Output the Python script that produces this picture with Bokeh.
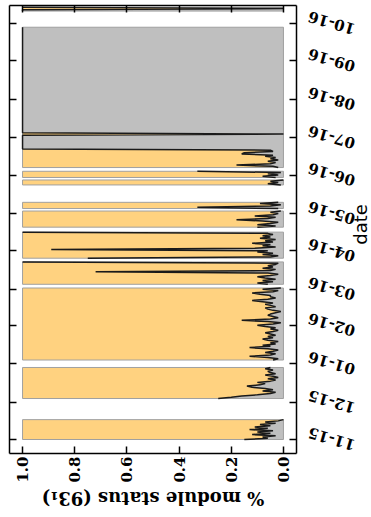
import math
import pandas as pd
from bokeh.plotting import figure
from bokeh.models import (Range1d, FixedTicker, LinearAxis, DatetimeAxis, Label,
                          PrintfTickFormatter, ColumnDataSource)
from bokeh.embed import file_html
from bokeh.resources import INLINE

# ---------------- data (share of modules in the grey status, per day) ----------------
band_starts = ["2015-11-01", "2015-12-04", "2016-01-04", "2016-03-05", "2016-03-26",
               "2016-04-20", "2016-05-05", "2016-05-24", "2016-05-30", "2016-06-07",
               "2016-10-11"]

band_nov = [0.15, 0.06, 0.08, 0.03, 0.12, 0.05, 0.10, 0.04, 0.13, 0.06, 0.11, 0.05,
            0.09, 0.03, 0.07, 0.02, 0.00]
band_dec = [0.25, 0.20, 0.16, 0.10, 0.05, 0.03, 0.08, 0.04, 0.07, 0.12, 0.14, 0.09,
            0.07, 0.10, 0.05, 0.03, 0.06, 0.02, 0.04, 0.07, 0.03, 0.05, 0.06, 0.04,
            0.07, 0.05]
band_jan = [0.04, 0.02, 0.06, 0.13, 0.05, 0.03, 0.07, 0.04, 0.02, 0.06, 0.13, 0.05,
            0.08, 0.03, 0.05, 0.02, 0.06, 0.08, 0.04, 0.06, 0.03, 0.05, 0.07, 0.04,
            0.02, 0.05, 0.03, 0.07, 0.10, 0.04, 0.01, 0.06, 0.16, 0.05, 0.02, 0.04,
            0.06, 0.05, 0.03, 0.01, 0.04, 0.06, 0.07, 0.03, 0.05, 0.07, 0.04, 0.08,
            0.12, 0.06, 0.03, 0.05, 0.05, 0.09, 0.12, 0.04, 0.02, 0.08, 0.01]
band_mar1 = [0.06, 0.10, 0.04, 0.08, 0.03, 0.07, 0.10, 0.05, 0.02, 0.06, 0.72, 0.05,
             0.03, 0.08, 0.04, 0.06, 0.03, 0.02, 1.00]
band_mar2 = [0.75, 0.05, 0.02, 0.08, 0.04, 0.10, 0.06, 0.89, 0.11, 0.03, 0.08, 0.05,
             0.12, 0.04, 0.07, 0.03, 0.09, 0.05, 0.08, 0.04, 0.06, 1.00]
band_apr = [0.10, 0.03, 0.10, 0.05, 0.02, 0.08, 0.18, 0.06, 0.03, 0.11, 0.04, 0.02,
            0.05, 0.01]
band_may1 = [0.02, 0.33, 0.05, 0.01, 0.09, 0.02]
band_may2 = [0.01, 0.06, 0.02, 0.05, 0.00]
band_may3 = [0.03, 0.08, 0.02, 0.06, 0.01, 0.33]
band_jun = [0.02, 0.04, 0.18, 0.05, 0.03, 0.06, 0.02, 0.05, 0.03, 0.07, 0.04, 0.16,
            0.15, 0.04, 0.05,
            1.0, 1.0, 1.0, 1.0, 1.0, 1.0, 1.0, 1.0, 1.0, 1.0, 1.0, 1.0,
            0.0,
            1.0, 1.0, 1.0, 1.0, 1.0, 1.0, 1.0, 1.0, 1.0, 1.0, 1.0, 1.0, 1.0, 1.0,
            1.0, 1.0, 1.0, 1.0, 1.0, 1.0, 1.0, 1.0, 1.0, 1.0, 1.0, 1.0, 1.0, 1.0,
            1.0, 1.0, 1.0, 1.0, 1.0, 1.0, 1.0, 1.0, 1.0, 1.0, 1.0, 1.0, 1.0, 1.0,
            1.0, 1.0, 1.0, 1.0, 1.0, 1.0, 1.0, 1.0, 1.0, 1.0, 1.0, 1.0, 1.0, 1.0,
            1.0, 1.0, 1.0, 1.0, 1.0, 1.0, 1.0, 1.0, 1.0, 1.0, 1.0, 1.0, 1.0, 1.0,
            1.0, 1.0, 1.0, 1.0, 1.0, 1.0, 1.0, 1.0, 1.0, 1.0, 1.0, 1.0, 1.0, 1.0,
            1.0, 1.0]
band_oct = [1.0, 1.0, 0.0, 1.0]

band_values = [band_nov, band_dec, band_jan, band_mar1, band_mar2, band_apr,
               band_may1, band_may2, band_may3, band_jun, band_oct]

month_ticks = ["2015-11-01", "2015-12-01", "2016-01-01", "2016-02-01", "2016-03-01",
               "2016-04-01", "2016-05-01", "2016-06-01", "2016-07-01", "2016-08-01",
               "2016-09-01", "2016-10-01"]
month_labels = ["11-15", "12-15", "01-16", "02-16", "03-16", "04-16", "05-16",
                "06-16", "07-16", "08-16", "09-16", "10-16"]
share_ticks = [0.0, 0.2, 0.4, 0.6, 0.8, 1.0]

x_title = "% module status (93\u2081)"
y_title = "date"

# ---------------- layout geometry ----------------
DAY = 86400000.0


def ms(s):
    return pd.Timestamp(s).value / 1e6


W, H = 371, 512
BOX_L, BOX_R, BOX_T, BOX_B = 9, 296, 5, 453        # visible axes box, canvas px
SX0, SX1 = 1.05, -0.05                              # share at box left / right
SY0 = ms("2015-11-01") - 11.27 * DAY                # date at box bottom
SY1 = ms("2015-11-01") + 349.5 * DAY                # date at box top

kx = (SX1 - SX0) / (BOX_R - BOX_L)
ky = (SY1 - SY0) / (BOX_B - BOX_T)


def x_at(px):
    return SX0 + (px - BOX_L) * kx


def y_at(py):
    return SY0 + (BOX_B - py) * ky


p = figure(width=W, height=H, min_border=0, min_border_left=0, min_border_right=0,
           min_border_top=0, min_border_bottom=0,
           x_range=Range1d(x_at(0), x_at(W)), y_range=Range1d(y_at(H), y_at(0)),
           x_axis_location=None, y_axis_location=None,
           output_backend="svg", toolbar_location=None)
p.xgrid.visible = False
p.ygrid.visible = False
p.outline_line_color = None
p.background_fill_color = "white"
p.border_fill_color = "white"

tick_ms = [ms(t) for t in month_ticks]
FONT = "DejaVu Serif"

# bottom axis with share labels
xa = LinearAxis(fixed_location=SY0, bounds=(SX1, SX0),
                ticker=FixedTicker(ticks=share_ticks),
                formatter=PrintfTickFormatter(format="%.1f"),
                major_label_orientation=math.pi / 2,
                major_label_text_font=FONT, major_label_text_font_size="15px",
                major_label_text_font_style="bold", major_label_text_color="black",
                major_label_standoff=3, major_tick_in=7, major_tick_out=0,
                minor_tick_in=0, minor_tick_out=0, axis_line_width=1.5,
                major_tick_line_width=1.5)
p.add_layout(xa, "below")

# top axis (tick marks only)
ta = LinearAxis(fixed_location=SY1, bounds=(SX1, SX0),
                ticker=FixedTicker(ticks=[], minor_ticks=share_ticks),
                major_tick_in=0, major_tick_out=0, minor_tick_in=7, minor_tick_out=0,
                minor_tick_line_width=1.5, minor_tick_line_color="black",
                axis_line_width=1.5)
p.add_layout(ta, "above")

# right axis (tick marks; labels drawn below as rotated texts)
ra = DatetimeAxis(fixed_location=SX1, bounds=(SY0, SY1),
                  ticker=FixedTicker(ticks=[], minor_ticks=tick_ms),
                  major_tick_in=0, major_tick_out=0, minor_tick_in=7, minor_tick_out=0,
                  minor_tick_line_width=1.5, minor_tick_line_color="black",
                  axis_line_width=1.5)
p.add_layout(ra, "right")

# left axis (tick marks only)
la = DatetimeAxis(fixed_location=SX0, bounds=(SY0, SY1),
                  ticker=FixedTicker(ticks=[], minor_ticks=tick_ms),
                  major_tick_in=0, major_tick_out=0, minor_tick_in=7, minor_tick_out=0,
                  minor_tick_line_width=1.5, minor_tick_line_color="black",
                  axis_line_width=1.5)
p.add_layout(la, "left")

# ---------------- bands ----------------
for start, vals in zip(band_starts, band_values):
    dates = pd.date_range(start, periods=len(vals), freq="D")
    ys = [d.value / 1e6 for d in dates]
    src = ColumnDataSource(dict(y=ys, g=vals))
    p.harea(y="y", x1=0.0, x2="g", source=src, fill_color="#BFBFBF")
    p.harea(y="y", x1="g", x2=1.0, source=src, fill_color="#FFD280")
    p.quad(left=0.0, right=1.0, bottom=ys[0], top=ys[-1], fill_color=None,
           line_color="#A0A0A0", line_width=1)
    p.line(x="g", y="y", source=src, line_color="#1a1a1a", line_width=1.5)

# ---------------- texts ----------------
for t, lab in zip(tick_ms, month_labels):
    p.add_layout(Label(x=x_at(308), y=t + 7 * ky, text=lab, angle=math.radians(164),
                       text_align="right", text_baseline="middle",
                       text_font=FONT, text_font_size="15px", text_font_style="bold",
                       text_color="black"))

p.add_layout(Label(x=x_at(152.5), y=y_at(498), text=x_title, angle=math.pi,
                   text_align="center", text_baseline="middle",
                   text_font=FONT, text_font_size="18px", text_font_style="bold",
                   text_color="black"))
p.add_layout(Label(x=x_at(360), y=y_at(224), text=y_title, angle=math.pi / 2,
                   text_align="center", text_baseline="middle",
                   text_font="DejaVu Sans", text_font_size="18px", text_color="black"))

open("out.html", "w").write(file_html(p, INLINE))
